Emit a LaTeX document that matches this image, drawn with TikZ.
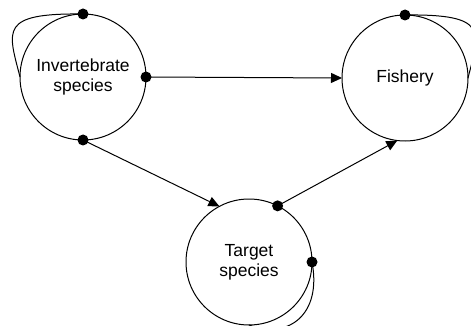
\documentclass[tikz,border=0pt]{standalone}
\usepackage{fontspec}
\setmainfont{Liberation Sans}
\usetikzlibrary{arrows.meta}
\tikzset{
  stock/.style={draw, circle, line width=1pt, inner sep=0pt, outer sep=0pt, minimum size=126pt, align=center, font=\fontsize{17.5}{20}\selectfont},
  dot/.style={circle, fill=black, inner sep=0pt, minimum size=11pt},
  flow/.style={line width=1pt, -{Triangle[length=11pt,width=10pt]}},
  loop/.style={line width=1pt}
}

\begin{document}
\begin{tikzpicture}[x=1pt, y=-1pt]
  \useasboundingbox (0,0) rectangle (471,326);
  \clip (0,0) rectangle (471,326);
  % species and fishery
  \node[stock] (inv) at (83,77) {Invertebrate\\species};
  \node[stock] (fish) at (405,78) {Fishery};
  \node[stock] (tgt) at (249,262) {Target\\species};
  % self loops
  \draw[loop] (inv.north) .. controls +(-84,-1) and +(-12,-47) .. (inv.west);
  \draw[loop] (fish.north) .. controls +(84,-1) and +(12,-47) .. (fish.east);
  \draw[loop] (tgt.east) .. controls +(10,52) and +(40,15) .. (tgt.south);
  % links
  \node[dot] (inv-e) at (inv.east) {};
  \node[dot] (inv-s) at (inv.south) {};
  \node[dot] (inv-n) at (inv.north) {};
  \node[dot] (fish-n) at (fish.north) {};
  \node[dot] (tgt-ne) at (tgt.63) {};
  \node[dot] (tgt-e) at (tgt.east) {};
  \draw[flow] (inv-e.center) -- (fish.west);
  \draw[flow] (inv-s.center) -- (tgt.118);
  \draw[flow] (tgt-ne.center) -- (fish.263);
\end{tikzpicture}
\end{document}
